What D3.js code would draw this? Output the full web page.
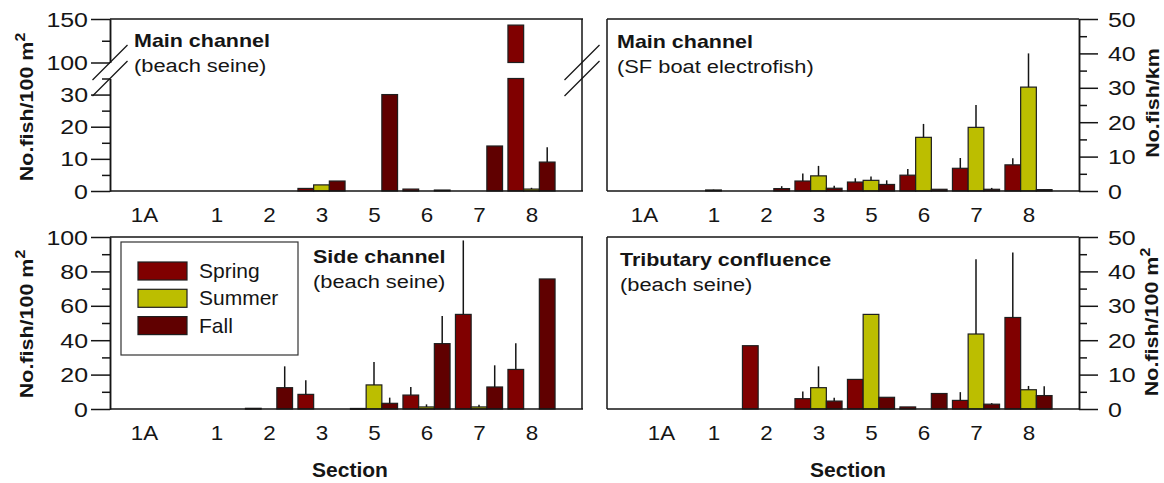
<!DOCTYPE html>
<html><head><meta charset="utf-8">
<script src="https://cdn.jsdelivr.net/npm/d3@7"></script>
<style>body{margin:0;background:#fff}svg{display:block}</style>
</head><body><svg id="c" width="1164" height="483"></svg>
<script>
// ---------- data ----------
const sections = ["1A","1","2","3","5","6","7","8"];
const seasons = ["Spring","Summer","Fall"];
const seasonColors = ["#800000","#bcbe00","#600000"];

// Main channel (beach seine), No.fish/100 m2
const mainSeineSpring = [0,0,0,0.8,0,0.6,0,143];
const mainSeineSummer = [0,0,0,1.9,0,0,0,0.6];
const mainSeineFall   = [0,0,0,3.1,30.0,0.3,14.0,9.0];
const mainSeineSpringErr = [0,0,0,0,0,0,0,0];
const mainSeineSummerErr = [0,0,0,0,0,0,0,0.4];
const mainSeineFallErr   = [0,0,0,0,0,0,0,4.6];

// Main channel (SF boat electrofish), No.fish/km
const mainBoatSpring = [0,0,0,2.9,2.6,4.6,6.6,7.6];
const mainBoatSummer = [0,0.3,0,4.4,3.1,15.6,18.5,30.2];
const mainBoatFall   = [0,0,0.7,0.8,1.9,0.5,0.5,0.4];
const mainBoatSpringErr = [0,0,0,2.2,1.1,1.8,3.0,1.9];
const mainBoatSummerErr = [0,0.1,0,2.9,1.1,3.9,6.5,9.8];
const mainBoatFallErr   = [0,0,0.7,0.7,1.2,0.1,0.4,0.1];

// Side channel (beach seine), No.fish/100 m2
const sideSpring = [0,0,0.4,8.5,0.3,8.1,55,23];
const sideSummer = [0,0,0,0,14,1.2,1.2,0];
const sideFall   = [0,0,12.4,0,3.3,38,12.8,75.6];
const sideSpringErr = [0,0,0,8.2,0,4.7,43,15.2];
const sideSummerErr = [0,0,0,0,13.3,1.5,1.3,0];
const sideFallErr   = [0,0,12.4,0,3.3,16,12.6,0];

// Tributary confluence (beach seine), No.fish/100 m2
const tribSpring = [0,0,18.4,3.0,8.6,0.6,2.5,26.6];
const tribSummer = [0,0,0,6.2,27.5,0,21.8,5.6];
const tribFall   = [0,0,0,2.3,3.4,4.5,1.4,3.9];
const tribSpringErr = [0,0,0,2.1,0,0,2.4,18.9];
const tribSummerErr = [0,0,0,6.2,0,0,21.7,1.1];
const tribFallErr   = [0,0,0,1.0,0,0,0.3,2.7];

// axis ticks
const ticksTLLow = [0,10,20,30], minorTLLow = [5,15,25,35];
const ticksTLHigh = [100,150], minorTLHigh = [125];
const ticks50 = [0,10,20,30,40,50], minor50 = [5,15,25,35,45];
const ticks100 = [0,20,40,60,80,100], minor100 = [10,30,50,70,90];

// ---------- drawing ----------
const svg = d3.select("#c");
const FONT = "'Liberation Sans', Arial, Helvetica, sans-serif";
const INK = "#151515";

function txt(parent, x, y, s, o) {
  o = o || {};
  const t = parent.append("text")
    .attr("transform", `translate(${x},${y}) rotate(${o.rotate||0}) scale(${o.sx||1},1)`)
    .attr("text-anchor", o.anchor || "start")
    .style("font-family", FONT)
    .style("font-size", (o.size||19) + "px")
    .style("font-weight", o.weight || "normal")
    .attr("fill", INK);
  if (s !== null) t.text(s);
  return t;
}

function styleAxis(g, side, labelOffset, sx) {
  g.selectAll("path.domain").attr("stroke", INK).attr("stroke-width", 1.5);
  g.selectAll(".tick line").attr("stroke", INK).attr("stroke-width", 1.5);
  g.selectAll(".tick text")
    .attr("x", null).attr("dy", "0.36em")
    .attr("transform", `translate(${side === "left" ? -labelOffset : labelOffset},0) scale(${sx},1)`)
    .style("font-family", FONT).style("font-size", "19.5px").attr("fill", INK);
}

function drawPanel(p) {
  const g = svg.append("g");
  const x = d3.scalePoint().domain(sections).range([p.x0 + 1.5, p.x1 + 2]).padding(1);
  const bw = 15.7;
  const xs = d3.scaleBand().domain(seasons).range([-1.5 * bw, 1.5 * bw]);

  // y mapping (possibly broken)
  let yLow, yHigh = null, lowMax;
  if (p.broken) {
    lowMax = p.broken.lowMax;
    yLow = d3.scaleLinear().domain([0, lowMax]).range([p.y1, p.broken.lowTop]);
    yHigh = d3.scaleLinear().domain(p.broken.highDomain).range([p.broken.highBottom, p.y0]);
  } else {
    yLow = d3.scaleLinear().domain(p.domain).range([p.y1, p.y0]);
    lowMax = p.domain[1];
  }
  const yv = v => (v <= lowMax || !yHigh) ? yLow(v) : yHigh(v);

  // frame
  const frame = g.append("g").attr("stroke", INK).attr("stroke-width", 1.5).attr("fill", "none");
  if (p.side === "left") {
    frame.append("line").attr("x1", p.x0).attr("x2", p.x1 + 1).attr("y1", p.y0).attr("y2", p.y0);
    frame.append("line").attr("x1", p.x1).attr("x2", p.x1).attr("y1", p.y0).attr("y2", p.y1);
  } else {
    frame.append("line").attr("x1", p.x0).attr("x2", p.x1).attr("y1", p.y0).attr("y2", p.y0);
    frame.append("line").attr("x1", p.x0).attr("x2", p.x0).attr("y1", p.y0).attr("y2", p.y1);
  }

  // bars
  const series = [p.spring, p.summer, p.fall];
  const errs = [p.springErr, p.summerErr, p.fallErr];
  series.forEach((vals, si) => {
    vals.forEach((v, i) => {
      if (!(v > 0)) return;
      const bx = x(sections[i]) + xs(seasons[si]);
      const col = seasonColors[si];
      const addRect = (yt, yb) => g.append("rect")
        .attr("x", bx).attr("y", yt).attr("width", xs.bandwidth()).attr("height", Math.max(0.8, yb - yt))
        .attr("fill", col).attr("stroke", "#1e1e1e").attr("stroke-width", 1.2);
      if (yHigh && v > lowMax) {
        addRect(yLow(lowMax), yLow(0));
        addRect(yHigh(v), yHigh(p.broken.highDomain[0]));
      } else {
        addRect(yLow(v), yLow(0));
      }
      const e = errs[si][i];
      if (e > 0) {
        g.append("line").attr("x1", bx + xs.bandwidth() / 2).attr("x2", bx + xs.bandwidth() / 2)
          .attr("y1", yv(v)).attr("y2", yv(v + e)).attr("stroke", INK).attr("stroke-width", 1.5);
      }
    });
  });

  // x baseline + labels
  g.append("line").attr("x1", p.x0).attr("x2", p.x1 + 1).attr("y1", p.y1).attr("y2", p.y1)
    .attr("stroke", INK).attr("stroke-width", 1.5);
  const xa = g.append("g").attr("transform", `translate(0,${p.y1})`)
    .call(d3.axisBottom(x).tickSize(0).tickPadding(0));
  xa.select("path.domain").remove();
  xa.selectAll(".tick text")
    .attr("y", null).attr("dy", null)
    .attr("transform", d => `translate(${d === "1A" ? p.firstLabelShift : 0},31) scale(1.12,1)`)
    .style("font-family", FONT).style("font-size", "20px").attr("fill", INK);

  // y axes
  const labelOffset = p.side === "left" ? 22 : 29;
  const mk = (scale, vals, minor) => {
    const ax = p.side === "left" ? d3.axisLeft(scale) : d3.axisRight(scale);
    const gm = g.append("g").attr("transform", `translate(${p.side === "left" ? p.x0 : p.x1},0)`)
      .call(ax.tickValues(minor).tickSize(8).tickSizeOuter(0).tickFormat(""));
    gm.selectAll("path.domain").attr("stroke", INK).attr("stroke-width", 1.5);
    gm.selectAll(".tick line").attr("stroke", INK).attr("stroke-width", 1.5);
    const ga = g.append("g").attr("transform", `translate(${p.side === "left" ? p.x0 : p.x1},0)`)
      .call(ax.tickValues(vals).tickSize(19).tickSizeOuter(0).tickFormat(d3.format("d")));
    styleAxis(ga, p.side, labelOffset, 1.28);
  };
  if (p.broken) {
    mk(yLow, p.ticksLow, p.minorLow);
    mk(yHigh, p.ticksHigh, p.minorHigh);
    // break slashes on both sides
    const sl = g.append("g").attr("stroke", INK).attr("stroke-width", 1.3);
    [p.x0, p.x1].forEach(ax => {
      [yHigh(p.broken.highDomain[0]), yLow(lowMax)].forEach(yy => {
        sl.append("line").attr("x1", ax - 17.5).attr("y1", yy + 17.5).attr("x2", ax + 17.5).attr("y2", yy - 17.5);
      });
    });
  } else {
    mk(yLow, p.ticks, p.minor);
  }

  // titles
  txt(g, p.tx, p.ty, p.title, { size: 19, weight: "bold", sx: 1.13 });
  txt(g, p.tx, p.ty + 24.5, p.subtitle, { size: 19, sx: 1.15 });

  // axis title
  const t = txt(g, p.ytx, p.yty, null, { size: 19, weight: "bold", sx: 1.13, rotate: -90, anchor: "middle" });
  t.append("tspan").text(p.ylabel);
  if (p.ysup) t.append("tspan").attr("dy", "-0.55em").style("font-size", "14px").text(p.ysup);
}

const panels = [
  { side: "left", x0: 110, x1: 582, y0: 19, y1: 191,
    broken: { lowMax: 35, lowTop: 78.5, highDomain: [100, 150], highBottom: 62.5 },
    ticksLow: ticksTLLow, minorLow: minorTLLow, ticksHigh: ticksTLHigh, minorHigh: minorTLHigh,
    spring: mainSeineSpring, summer: mainSeineSummer, fall: mainSeineFall,
    springErr: mainSeineSpringErr, summerErr: mainSeineSummerErr, fallErr: mainSeineFallErr,
    title: "Main channel", subtitle: "(beach seine)", tx: 134, ty: 47,
    ylabel: "No.fish/100 m", ysup: "2", ytx: 33, yty: 107, firstLabelShift: -20 },
  { side: "right", x0: 607, x1: 1079, y0: 19, y1: 191, domain: [0, 50], ticks: ticks50, minor: minor50,
    spring: mainBoatSpring, summer: mainBoatSummer, fall: mainBoatFall,
    springErr: mainBoatSpringErr, summerErr: mainBoatSummerErr, fallErr: mainBoatFallErr,
    title: "Main channel", subtitle: "(SF boat electrofish)", tx: 617, ty: 48,
    ylabel: "No.fish/km", ysup: null, ytx: 1159, yty: 103, firstLabelShift: -17 },
  { side: "left", x0: 110, x1: 582, y0: 237, y1: 409, domain: [0, 100], ticks: ticks100, minor: minor100,
    spring: sideSpring, summer: sideSummer, fall: sideFall,
    springErr: sideSpringErr, summerErr: sideSummerErr, fallErr: sideFallErr,
    title: "Side channel", subtitle: "(beach seine)", tx: 313, ty: 263,
    ylabel: "No.fish/100 m", ysup: "2", ytx: 33, yty: 324, firstLabelShift: -20 },
  { side: "right", x0: 607, x1: 1079, y0: 237, y1: 409, domain: [0, 50], ticks: ticks50, minor: minor50,
    spring: tribSpring, summer: tribSummer, fall: tribFall,
    springErr: tribSpringErr, summerErr: tribSummerErr, fallErr: tribFallErr,
    title: "Tributary confluence", subtitle: "(beach seine)", tx: 620, ty: 266,
    ylabel: "No.fish/100 m", ysup: "2", ytx: 1158, yty: 322, firstLabelShift: 0 }
];
panels.forEach(drawPanel);

// legend
const lg = svg.append("g");
lg.append("rect").attr("x", 121).attr("y", 242).attr("width", 177).attr("height", 113)
  .attr("fill", "#fff").attr("stroke", "#333").attr("stroke-width", 1.2);
seasons.forEach((s, i) => {
  const yy = 262 + i * 27.3;
  lg.append("rect").attr("x", 138).attr("y", yy).attr("width", 49).attr("height", 18)
    .attr("fill", seasonColors[i]).attr("stroke", "#1e1e1e").attr("stroke-width", 1.2);
  txt(lg, 199, yy + 16, s, { size: 21 });
});

// x-axis titles
txt(svg, 350, 477, "Section", { size: 21, weight: "bold", anchor: "middle" });
txt(svg, 848, 477, "Section", { size: 21, weight: "bold", anchor: "middle" });
</script></body></html>
